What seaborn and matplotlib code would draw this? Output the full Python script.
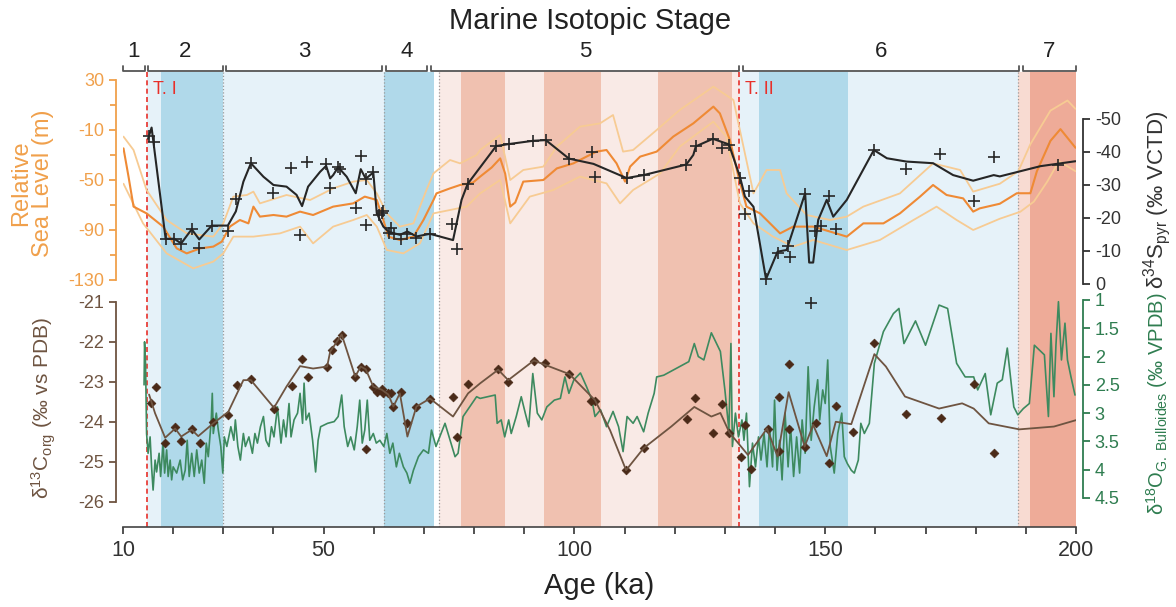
import numpy as np
import pandas as pd
import seaborn as sns
import matplotlib.pyplot as plt

# ---- data (age in ka) ----
# relative sea level (m): central estimate and its upper / lower envelope
sl_age = [10.1, 11.1, 12.1, 14.7, 18.0, 20.7, 22.7, 25.4, 28.0, 29.7, 31.3, 33.3, 35.0, 36.0,
          37.3, 40.0, 42.6, 45.3, 47.9, 51.9, 55.9, 58.2, 60.6, 61.9, 62.9, 65.2, 67.9, 69.9,
          71.9, 72.5, 75.2, 77.2, 79.8, 81.2, 83.5, 85.2, 86.2, 87.2, 88.2, 89.8, 93.8, 96.5,
          99.8, 102.4, 104.4, 106.4, 108.4, 110.1, 111.1, 113.1, 116.4, 119.7, 123.7, 127.7,
          129.0, 131.0, 132.7, 134.3, 137.0, 141.0, 143.6, 147.6, 151.0, 154.3, 157.6, 161.6,
          164.9, 168.9, 171.5, 174.2, 177.5, 179.5, 180.8, 184.8, 188.2, 190.9, 192.2, 194.9,
          196.9, 199.9]
sl_mid = [-24.7, -47.3, -71.3, -76.7, -87.3, -104.7, -108.7, -104.7, -103.3, -99.3, -87.3, -82,
          -84.7, -71.3, -79.3, -78, -79.3, -75.3, -78, -71.3, -68.7, -63.3, -66, -82, -95.3, -98,
          -95.3, -82, -66, -60.7, -56.7, -54, -52, -47.3, -40, -32.7, -45, -71.3, -68, -51.3, -50,
          -40.7, -36.7, -31.3, -27.3, -26, -36.7, -51.3, -39.3, -31.3, -27.3, -15.3, -4.7, 8.7,
          3.3, -18, -47.3, -71.3, -76.7, -92.7, -87.3, -87.3, -91.3, -95.3, -84.7, -84.7, -76.7,
          -63.3, -54, -62, -64.7, -75.3, -72.7, -69, -60.6, -60.6, -43, -18.7, -9.3, -24.2]

slh_age = [10.1, 12.1, 14.7, 18.7, 22.7, 28.0, 30.0, 32.0, 34.7, 36.0, 37.3, 42.6, 47.3, 51.9,
           55.9, 58.6, 60.6, 62.6, 65.2, 67.9, 70.5, 71.9, 75.2, 77.2, 80.5, 81.2, 85.2, 87.2,
           89.8, 93.8, 96.5, 101.1, 105.1, 107.7, 109.7, 111.7, 116.4, 121.0, 127.7, 131.7,
           133.7, 135.7, 138.3, 141.0, 142.3, 146.3, 151.0, 154.3, 157.6, 164.9, 171.5, 176.9,
           179.5, 184.8, 188.5, 190.9, 194.9, 198.3, 199.9]
sl_hi = [-15.3, -26, -58, -82, -92.7, -95.3, -84.7, -63.3, -62, -59.3, -68.7, -62, -66, -56.7,
         -51.3, -50, -60.7, -76.7, -87.3, -84.7, -58, -44.7, -34, -36.7, -30, -26, -14, -50, -42,
         -39.3, -23.3, -7.3, -4.7, 2, -27.3, -26, -10, 6, 24.7, 14, -23.3, -60.7, -42, -42, -60.7,
         -78, -82, -79.3, -71.3, -60.7, -36.7, -42, -59.3, -53, -43, -21.4, 5.5, 13.6, 6.9]

sll_age = [10.1, 14.0, 18.7, 24.0, 28.0, 30.0, 32.0, 36.0, 41.3, 45.3, 47.9, 51.9, 55.9, 58.6,
           60.6, 62.6, 65.9, 69.2, 71.9, 75.2, 78.5, 81.2, 85.2, 87.2, 91.1, 95.8, 101.1, 106.4,
           109.1, 111.7, 117.1, 121.0, 127.7, 130.3, 133.0, 135.7, 139.6, 143.6, 147.6, 154.3,
           160.9, 167.6, 172.2, 176.2, 179.5, 184.8, 188.9, 191.6, 194.3, 196.6, 199.9]
sl_lo = [-53, -84.7, -108.7, -120.7, -115.3, -108.7, -95.3, -95.3, -92.7, -87.3, -100.7, -87.3,
         -82, -78, -87.3, -106, -108.7, -100.7, -76.7, -74, -71.3, -60.7, -50, -84.7, -63.3, -58,
         -47.3, -52.7, -68.7, -58, -44.7, -23.3, -3.3, -15.3, -68.7, -84.7, -95.3, -103.3, -98,
         -106, -98, -82, -71.3, -82, -90, -81, -75.4, -67.3, -51.1, -34.9, -43]

# d34S pyrite (permil VCTD): samples and smoothed curve
s34_age = [15.2, 16.2, 18.5, 20.2, 21.6, 23.7, 25.2, 27.7, 30.9, 32.5, 35.5, 40.0, 43.5, 45.3,
           46.7, 50.5, 51.3, 52.9, 53.3, 56.4, 57.4, 58.4, 58.4, 59.9, 61.1, 61.6, 61.9, 63.0,
           63.4, 64.0, 65.4, 66.7, 68.5, 71.2, 75.5, 76.6, 78.7, 84.4, 86.9, 91.8, 94.3, 98.9,
           103.5, 104.1, 110.4, 113.8, 122.3, 124.2, 127.6, 129.4, 130.8, 133.1, 134.0, 134.9,
           138.2, 140.5, 142.6, 142.9, 146.0, 147.2, 147.9, 149.1, 150.7, 152.2, 159.7, 166.2,
           172.9, 179.6, 183.6, 196.4]
s34_val = [-44.8, -43.0, -13.7, -13.7, -12.1, -16.6, -10.8, -17.7, -16.2, -25.7, -36.6, -27.7,
           -35.1, -14.9, -37.0, -36.3, -29.0, -35.4, -34.8, -23.0, -38.9, -31.9, -17.9, -33.8,
           -21.0, -21.5, -22.0, -15.4, -16.9, -15.0, -13.5, -15.2, -13.8, -15.2, -18.2, -10.7,
           -30.3, -41.8, -42.4, -43.4, -43.6, -38.0, -40.1, -32.5, -32.1, -33.0, -36.2, -41.7,
           -44.0, -41.3, -42.0, -32.1, -21.1, -28.1, -1.5, -9.5, -11.6, -8.1, -27.4, 5.7, -16.1,
           -17.6, -26.8, -16.6, -40.6, -34.9, -39.3, -25.2, -38.6, -36.2]

s34s_age = [15.0, 15.7, 18.5, 20.2, 21.6, 23.7, 25.2, 27.7, 30.9, 32.5, 34.0, 35.5, 38.0, 40.0,
            42.6, 44.6, 45.7, 46.9, 49.3, 50.5, 51.3, 51.9, 52.9, 54.6, 56.4, 57.4, 58.4, 59.9,
            60.6, 61.9, 63.0, 65.2, 66.7, 68.5, 71.2, 75.8, 77.5, 78.7, 84.4, 86.9, 91.8, 94.3,
            98.9, 103.8, 110.4, 113.8, 122.3, 123.7, 124.2, 127.6, 130.8, 133.0, 134.0, 135.7,
            138.2, 140.5, 142.3, 146.0, 146.8, 147.6, 148.6, 150.3, 151.6, 154.3, 159.7, 162.3,
            166.2, 171.5, 175.5, 179.5, 183.6, 184.8, 192.9, 199.9]
s34s_val = [-44.0, -47.4, -13.7, -13.7, -12.3, -16.6, -13.5, -17.7, -17.7, -22.0, -31.0, -36.6,
            -32.5, -30.0, -29.5, -27.0, -23.6, -29.5, -34.0, -35.8, -32.0, -33.0, -35.4, -32.5,
            -27.5, -34.8, -31.9, -33.8, -21.4, -17.4, -15.8, -14.9, -15.9, -14.4, -15.2, -13.3,
            -25.5, -30.3, -41.8, -42.4, -43.4, -43.6, -38.0, -36.4, -32.1, -33.0, -36.2, -39.1,
            -41.7, -44.0, -42.3, -32.5, -26.5, -23.4, -1.5, -9.8, -10.3, -27.5, -6.5, -6.5, -19.4,
            -25.5, -20.4, -25.5, -40.6, -38.1, -37.1, -36.6, -33.0, -31.3, -33.0, -32.6, -35.7,
            -37.2]

# d13C organic (permil vs PDB): samples and smoothed curve
c13_age = [15.5, 16.6, 18.4, 20.4, 21.6, 23.7, 25.4, 28.0, 31.0, 32.7, 35.5, 40.1, 43.6, 45.6,
           46.9, 50.7, 51.6, 52.7, 53.6, 56.3, 57.4, 58.4, 58.4, 59.9, 60.6, 61.6, 61.9, 62.9,
           63.4, 63.9, 65.5, 66.7, 68.5, 71.2, 75.7, 76.6, 78.8, 84.7, 86.8, 91.9, 94.1, 99.0,
           103.3, 104.2, 110.3, 113.8, 122.4, 124.1, 127.6, 129.4, 130.9, 133.2, 134.0, 135.2,
           138.5, 140.8, 140.8, 142.7, 142.7, 146.0, 148.2, 150.7, 152.2, 155.6, 159.8, 166.2,
           173.0, 179.6, 183.6]
c13_val = [-23.54, -23.12, -24.54, -24.12, -24.49, -24.17, -24.52, -24.0, -23.83, -23.07, -22.94,
           -23.67, -23.1, -22.42, -22.87, -22.62, -22.21, -21.97, -21.82, -22.87, -22.62, -22.69,
           -24.67, -23.12, -23.25, -23.17, -23.29, -23.29, -23.29, -23.62, -23.25, -24.02, -23.62,
           -23.42, -23.39, -24.39, -23.06, -22.67, -23.0, -22.47, -22.54, -22.81, -23.48, -23.48,
           -25.21, -24.66, -23.92, -23.4, -24.27, -23.56, -24.27, -24.87, -24.07, -25.18, -24.17,
           -24.73, -23.39, -22.56, -24.17, -24.62, -24.02, -25.04, -23.6, -24.25, -22.03, -23.81,
           -23.9, -23.05, -24.77]

c13s_age = [15.2, 16.4, 18.4, 20.4, 21.6, 23.7, 25.0, 28.0, 31.0, 34.0, 35.5, 40.1, 42.6, 45.3,
            47.9, 50.7, 51.3, 53.6, 56.3, 57.4, 58.4, 59.9, 61.6, 62.9, 63.9, 65.2, 66.7, 68.5,
            71.2, 75.8, 78.8, 81.2, 84.8, 86.8, 91.9, 99.0, 104.1, 107.1, 110.3, 113.8, 119.3,
            123.9, 127.3, 129.1, 130.9, 134.6, 138.4, 140.5, 142.7, 145.9, 147.6, 150.3, 152.1,
            155.2, 159.8, 162.1, 165.9, 172.7, 177.3, 179.6, 182.6, 188.7, 195.6, 200.0]
c13s_val = [-23.32, -23.79, -24.4, -24.17, -24.37, -24.2, -24.36, -24.04, -23.75, -22.96, -22.96,
            -23.65, -23.12, -22.61, -22.67, -22.62, -22.25, -21.82, -22.87, -22.62, -22.69,
            -23.12, -23.2, -23.32, -23.62, -23.29, -24.37, -23.62, -23.42, -23.87, -23.29,
            -23.04, -22.7, -22.96, -22.47, -22.81, -23.46, -24.21, -25.21, -24.66, -24.12,
            -23.63, -23.87, -23.78, -24.27, -24.83, -24.17, -24.87, -23.26, -24.62, -24.08,
            -24.86, -24.0, -24.06, -22.31, -22.62, -23.37, -23.67, -23.54, -23.67, -24.04,
            -24.19, -24.12, -23.96]

# d18O G. bulloides (permil VPDB)
o18_age = [14.2, 14.3, 14.5, 14.7, 15.0, 15.4, 15.7, 16.0, 16.4, 16.7, 17.2, 17.5, 18.0, 18.3,
           18.7, 19.0, 19.4, 19.7, 20.0, 20.7, 21.4, 21.9, 22.4, 22.8, 23.2, 23.7, 24.2, 24.7,
           25.2, 25.7, 26.2, 26.6, 27.0, 27.6, 27.8, 28.0, 28.6, 29.0, 29.5, 29.9, 30.2, 30.7,
           31.5, 32.1, 32.4, 32.9, 33.4, 34.0, 34.4, 35.1, 35.8, 36.3, 36.8, 37.4, 38.0, 38.5,
           39.1, 39.6, 40.1, 40.8, 41.5, 42.0, 42.5, 43.1, 43.5, 44.1, 44.8, 45.3, 45.8, 46.1,
           46.5, 47.1, 47.8, 48.4, 48.9, 49.4, 50.8, 52.1, 52.9, 53.6, 54.1, 54.8, 55.4, 56.1,
           56.7, 57.2, 57.7, 58.2, 58.7, 59.2, 59.9, 60.5, 61.2, 62.0, 62.6, 63.2, 63.8, 64.5,
           65.1, 65.9, 66.6, 67.2, 67.9, 68.9, 69.9, 70.9, 71.5, 72.4, 74.2, 76.2, 76.8, 77.8,
           80.5, 81.2, 84.2, 84.6, 85.4, 86.1, 86.9, 87.4, 88.4, 89.4, 90.2, 90.9, 91.7, 92.6,
           93.5, 94.5, 96.0, 97.2, 98.1, 98.9, 99.9, 101.2, 102.4, 103.5, 104.1, 105.2, 106.4,
           107.7, 108.8, 109.7, 110.5, 111.7, 112.5, 113.8, 114.7, 115.9, 116.4, 117.8, 122.8,
           123.9, 124.7, 125.8, 127.3, 129.1, 130.0, 130.8, 131.2, 131.5, 132.1, 132.7, 133.4,
           133.8, 134.3, 134.9, 135.5, 136.1, 136.7, 137.2, 137.8, 138.4, 138.9, 139.5, 139.9,
           140.4, 140.9, 141.4, 142.0, 142.6, 143.1, 143.7, 144.3, 144.9, 145.4, 146.0, 146.6,
           147.2, 147.8, 148.5, 148.9, 149.5, 150.0, 150.5, 151.0, 151.8, 152.5, 153.3, 153.8,
           154.4, 155.2, 155.8, 156.6, 157.1, 157.8, 158.8, 159.8, 161.6, 163.6, 164.7, 165.7,
           168.0, 170.0, 171.6, 172.7, 174.4, 176.2, 177.9, 179.6, 180.4, 181.9, 183.0, 184.3,
           185.3, 186.3, 187.6, 188.4, 189.5, 190.7, 191.7, 193.7, 194.5, 195.0, 195.6, 196.0,
           196.5, 197.1, 197.8, 198.3, 199.0, 199.8]
o18_val = [2.5, 1.74, 2.12, 3.36, 3.71, 3.42, 3.95, 4.36, 3.83, 4.04, 3.71, 4.12, 3.53, 4.06,
           3.65, 4.12, 3.83, 4.18, 3.95, 4.06, 3.83, 4.18, 4.01, 3.48, 4.12, 3.71, 4.12, 3.65,
           4.06, 3.83, 4.24, 3.53, 3.77, 3.12, 2.65, 3.36, 3.0, 3.3, 3.59, 4.06, 3.42, 3.59,
           3.24, 3.48, 3.12, 3.59, 3.83, 3.36, 3.59, 3.42, 3.71, 3.36, 3.53, 3.24, 3.06, 3.48,
           3.59, 3.24, 3.42, 2.89, 3.53, 3.12, 3.42, 2.83, 3.42, 3.12, 3.0, 2.65, 3.18, 2.47,
           3.12, 3.0, 3.48, 4.04, 3.48, 3.24, 3.18, 3.15, 3.06, 2.68, 3.24, 3.59, 3.42, 3.65,
           3.24, 2.77, 3.53, 3.3, 2.77, 3.48, 3.36, 3.53, 3.48, 3.59, 3.36, 3.71, 3.53, 3.95,
           3.71, 3.95, 4.06, 4.24, 4.01, 3.77, 3.65, 3.71, 3.3, 3.59, 3.18, 3.77, 3.71, 3.06,
           2.71, 2.74, 2.68, 3.18, 3.12, 3.42, 3.12, 3.36, 3.06, 2.71, 3.0, 3.24, 2.3, 3.0,
           3.12, 2.89, 2.77, 2.74, 2.36, 2.65, 2.41, 2.29, 2.53, 2.77, 3.06, 2.94, 3.24,
           2.97, 3.24, 3.68, 3.06, 3.18, 3.06, 3.33, 3.0, 2.65, 2.36, 2.33, 2.09,
           1.77, 2.0, 2.06, 1.58, 1.91, 2.59, 3.3, 1.77, 3.59, 3.0, 3.42, 3.12,
           3.48, 3.0, 4.3, 3.53, 3.95, 3.42, 3.83, 3.36, 3.95, 3.24, 3.95, 2.77,
           4.01, 3.48, 4.18, 3.0, 3.95, 3.24, 4.12, 3.42, 4.06, 3.12, 3.71, 2.18,
           3.48, 2.89, 2.41, 3.12, 2.59, 2.83, 2.06, 3.59, 4.06, 3.36, 3.0, 3.77,
           3.89, 4.01, 4.06, 3.83, 3.18, 3.36, 3.18, 2.12, 1.56, 1.24, 1.15, 1.77,
           1.37, 1.8, 1.38, 1.09, 1.15, 2.12, 2.36, 2.36, 2.59, 2.3, 3.03, 2.47,
           2.41, 1.85, 2.89, 3.03, 2.92, 2.83, 1.8, 1.97, 3.06, 1.59, 2.71, 1.8,
           1.03, 2.06, 1.41, 2.06, 2.36, 2.68]

# marine isotope stages and background shading
stage_names = ['1', '2', '3', '4', '5', '6', '7']
stage_edges = [10, 14.7, 30.2, 62.0, 71.0, 133.2, 189.0, 200]
band_start = [14.7, 17.5, 29.9, 62.0, 73.0, 77.4, 86.2, 93.9, 105.2, 116.7, 131.4, 132.9, 136.7,
              154.6, 188.4, 190.8]
band_end = [17.5, 29.9, 62.0, 72.0, 77.4, 86.2, 93.9, 105.2, 116.7, 131.4, 132.9, 136.7, 154.6,
            188.4, 190.8, 200]
band_kind = ['cold_pale', 'cold', 'cold_pale', 'cold', 'warm_pale', 'warm', 'warm_pale', 'warm',
             'warm_pale', 'warm', 'warm_pale', 'cold_pale', 'cold', 'cold_pale', 'warm7_pale',
             'warm7']
dotted_ages = [29.9, 62.0, 73.0, 188.4]
terminations = [14.7, 132.9]
termination_names = ['T. I', 'T. II']
age_labelled = [10, 50, 100, 150, 200]

# ---- style ----
sns.set_theme(style='ticks')
plt.rcParams['font.family'] = ['Liberation Sans', 'DejaVu Sans']
plt.rcParams['mathtext.fontset'] = 'custom'
plt.rcParams['mathtext.rm'] = 'Liberation Sans'
plt.rcParams['mathtext.it'] = 'Liberation Sans:italic'
plt.rcParams['mathtext.bf'] = 'Liberation Sans:bold'
plt.rcParams['axes.unicode_minus'] = False

band_colors = {'cold_pale': '#e6f2f9', 'cold': '#b0d9ea', 'warm_pale': '#f9eae6',
               'warm': '#f0c1b0', 'warm7_pale': '#f8dbd2', 'warm7': '#eeab98'}
ORANGE = '#ef8a35'
ORANGE_LT = '#f7cb93'
ORANGE_AX = '#f0a04b'
BLACK = '#262626'
BROWN = '#6e5441'
BROWN_DK = '#4a2a18'
GREEN = '#3d8a5f'
GREEN_AX = '#2f7d50'
RED = '#e8302a'

W, H = 1176, 607
fig = plt.figure(figsize=(W / 100, H / 100), dpi=100)


def px_rect(x0, y0, x1, y1):
    return [x0 / W, 1 - y1 / H, (x1 - x0) / W, (y1 - y0) / H]


ax = fig.add_axes(px_rect(123, 72, 1076, 527))
ax.set_xlim(10, 200)
for s, e, k in zip(band_start, band_end, band_kind):
    ax.axvspan(s, e, color=band_colors[k], lw=0, zorder=0)
for a in dotted_ages:
    ax.axvline(a, color='#9a9a9a', ls=':', lw=0.9, zorder=1)
for a, name in zip(terminations, termination_names):
    ax.axvline(a, color=RED, ls=(0, (3, 2)), lw=1.2, zorder=1)
    ax.text(a + 1.2, 0.962, name, color=RED, fontsize=13, ha='left', va='center',
            transform=ax.get_xaxis_transform())

ax.set_yticks([])
for side in ['left', 'right', 'top']:
    ax.spines[side].set_visible(False)
ax.spines['bottom'].set_color('#444444')
ax.spines['bottom'].set_linewidth(1.2)
ax.set_xticks(np.arange(10, 201, 10))
ax.set_xticklabels([str(int(t)) if t in age_labelled else '' for t in np.arange(10, 201, 10)])
ax.tick_params(axis='x', direction='out', length=5, width=1.2, labelsize=15.5,
               colors='#333333', pad=4)

# stage brackets above the plot
trans = ax.get_xaxis_transform()
for i, name in enumerate(stage_names):
    x0 = stage_edges[i] + (0 if i == 0 else 0.35)
    x1 = stage_edges[i + 1] - (0 if i == len(stage_names) - 1 else 0.35)
    ax.plot([x0, x0, x1, x1], [1.013, 1.002, 1.002, 1.013], color='#555555', lw=1.3,
            transform=trans, clip_on=False)
    ax.text((x0 + x1) / 2, 1.046, name, transform=trans, ha='center', va='center',
            fontsize=16, color='#222222')
fig.text(590 / W, 1 - 21 / H, 'Marine Isotopic Stage', ha='center', va='center',
         fontsize=21, color='#222222')


def make_twin(side, ylim, bounds, color, tcolor):
    t = ax.twinx()
    for sp in t.spines.values():
        sp.set_visible(False)
    sp = t.spines[side]
    sp.set_visible(True)
    sp.set_position(('outward', 5))
    sp.set_bounds(*bounds)
    sp.set_color(color)
    sp.set_linewidth(1.3)
    if side == 'left':
        t.yaxis.tick_left()
    else:
        t.yaxis.tick_right()
    t.set_ylim(*ylim)
    t.tick_params(axis='y', which='both', direction='out', width=1.3, color=color,
                  labelcolor=tcolor, labelsize=13)
    t.tick_params(axis='y', which='major', length=5)
    t.tick_params(axis='y', which='minor', length=4)
    t.set_xlim(10, 200)
    return t


ax_sl = make_twin('left', (-327.6, 36.4), (-130, 30), ORANGE_AX, ORANGE_AX)
ax_s = make_twin('right', (73.64, -64.24), (-50, 0), '#333333', '#333333')
ax_o = make_twin('right', (5.013, -3.03), (1, 4.5), GREEN_AX, GREEN_AX)
ax_c = make_twin('left', (-26.63, -15.26), (-26, -21), BROWN, BROWN)

# sea level
sns.lineplot(x=slh_age, y=sl_hi, ax=ax_sl, color=ORANGE_LT, lw=1.3, estimator=None)
sns.lineplot(x=sll_age, y=sl_lo, ax=ax_sl, color=ORANGE_LT, lw=1.3, estimator=None)
sns.lineplot(x=sl_age, y=sl_mid, ax=ax_sl, color=ORANGE, lw=1.5, estimator=None)
ax_sl.set_yticks([30, -10, -50, -90, -130])
ax_sl.set_yticks([10, -30, -70, -110], minor=True)
ax_sl.set_ylim(-327.6, 36.4)

# d34S
sns.lineplot(x=s34s_age, y=s34s_val, ax=ax_s, color=BLACK, lw=1.5, estimator=None)
sns.scatterplot(x=s34_age, y=s34_val, ax=ax_s, marker='+', s=70, color=BLACK, linewidth=1.2)
ax_s.set_yticks([-50, -40, -30, -20, -10, 0])
ax_s.set_ylim(73.64, -64.24)

# d18O
sns.lineplot(x=o18_age, y=o18_val, ax=ax_o, color=GREEN, lw=1.2, estimator=None, sort=False)
ax_o.set_yticks([1, 1.5, 2, 2.5, 3, 3.5, 4, 4.5])
ax_o.set_yticklabels(['1', '1.5', '2', '2.5', '3', '3.5', '4', '4.5'])
ax_o.set_ylim(5.013, -3.03)

# d13C
sns.lineplot(x=c13s_age, y=c13s_val, ax=ax_c, color=BROWN, lw=1.3, estimator=None)
sns.scatterplot(x=c13_age, y=c13_val, ax=ax_c, marker='D', s=20, color=BROWN_DK,
                edgecolor=BROWN_DK, linewidth=0.5)
ax_c.set_yticks([-21, -22, -23, -24, -25, -26])
ax_c.set_ylim(-26.63, -15.26)

for t in (ax_sl, ax_s, ax_o, ax_c):
    t.set_ylabel('')
    t.set_xlabel('')
ax.set_xlabel('Age (ka)', fontsize=21, labelpad=8, color='#222222')

# axis titles
fig.text(32 / W, 1 - 183 / H, 'Relative\nSea Level (m)', rotation=90, ha='center',
         va='center', fontsize=17, color=ORANGE_AX, linespacing=1.0)
fig.text(44 / W, 1 - 408 / H, r'δ$^{13}$C$_{\rm org}$ (‰ vs PDB)', rotation=90,
         ha='center', va='center', fontsize=15, color=BROWN)
fig.text(1157 / W, 1 - 200 / H, r'δ$^{34}$S$_{\rm pyr}$ (‰ VCTD)', rotation=90,
         ha='center', va='center', fontsize=16, color='#333333')
fig.text(1157 / W, 1 - 404 / H, r'δ$^{18}$O$_{\rm G.\ Bulloides}$ (‰ VPDB)', rotation=90,
         ha='center', va='center', fontsize=14.5, color=GREEN_AX)

fig.savefig('out.png', dpi=100)
